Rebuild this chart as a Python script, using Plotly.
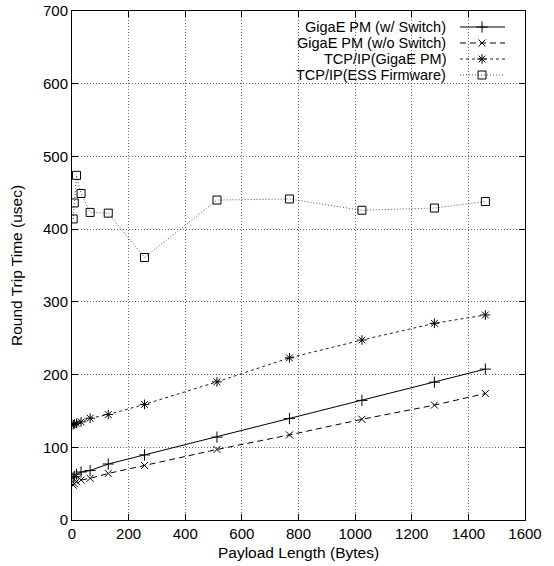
import plotly.graph_objects as go

# ---- data ----
payload = [4, 8, 16, 32, 64, 128, 256, 512, 768, 1024, 1280, 1460]
pm_switch = [58, 60, 63, 66, 68, 77, 89.5, 114, 139.5, 164.5, 189.5, 207.5]
pm_noswitch = [48, 50, 52.7, 55, 57.3, 64, 75, 97, 117, 138.5, 158, 174]
tcp_pm = [131, 132, 133, 135, 140, 145, 159, 190, 223, 247.5, 270.5, 282]
tcp_ess = [414, 436, 474, 449, 423, 422, 361, 440, 441.5, 426, 429, 438]

names = ["GigaE PM (w/ Switch)", "GigaE PM (w/o Switch)",
         "TCP/IP(GigaE PM)", "TCP/IP(ESS Firmware)"]
series = [pm_switch, pm_noswitch, tcp_pm, tcp_ess]
symbols = ["cross-thin-open", "x-thin-open", "asterisk-open", "square-open"]
dashes = ["solid", "6px,4px", "3px,3px", "1px,2px"]
line_colors = ["#000000", "#000000", "#222222", "#555555"]
marker_sizes = [8, 7, 8, 8]

x_ticks = list(range(0, 1601, 200))
y_ticks = list(range(0, 701, 100))

FONT = "Liberation Sans, Arial, Helvetica, sans-serif"

fig = go.Figure()
for name, ys, sym, dash, col, ms in zip(names, series, symbols, dashes, line_colors, marker_sizes):
    fig.add_trace(go.Scatter(
        x=payload, y=ys, name=name, mode="lines+markers",
        line=dict(color=col, width=1, dash=dash),
        marker=dict(symbol=sym, size=ms, color="#000000",
                    line=dict(color="#000000", width=1)),
        showlegend=False,
    ))

# ---- custom gnuplot-style legend (text left, sample right) ----
W, H = 453.0, 509.0
text_right = (447 - 72) / W
line_x0 = (460 - 72) / W
line_x1 = (505 - 72) / W
mark_x = (482 - 72) / W
for i, (name, sym, dash, col, ms) in enumerate(zip(names, symbols, dashes, line_colors, marker_sizes)):
    yp = (520 - (27 + 16 * i)) / H
    fig.add_annotation(x=text_right, y=yp, xref="x2", yref="y2", text=name,
                       showarrow=False, xanchor="right", yanchor="middle",
                       borderpad=0,
                       font=dict(family=FONT, size=14.5, color="#000000"))
    fig.add_trace(go.Scatter(
        x=[line_x0, mark_x, line_x1], y=[yp, yp, yp], xaxis="x2", yaxis="y2",
        mode="lines", line=dict(color=col, width=1, dash=dash),
        showlegend=False, hoverinfo="skip"))
    fig.add_trace(go.Scatter(
        x=[mark_x], y=[yp], xaxis="x2", yaxis="y2", mode="markers",
        marker=dict(symbol=sym, size=ms, color="#000000",
                    line=dict(color="#000000", width=1)),
        showlegend=False, hoverinfo="skip"))

axis_common = dict(
    showline=True, linecolor="#000000", linewidth=1, mirror="ticks",
    ticks="inside", ticklen=6, tickcolor="#000000", tickwidth=1,
    showgrid=True, gridcolor="#666666", griddash="1px,2px", gridwidth=1,
    zeroline=False, automargin=False,
    tickfont=dict(family=FONT, size=15, color="#000000"),
)

fig.update_layout(
    width=554, height=566,
    margin=dict(l=72, r=29, t=11, b=46, autoexpand=False),
    plot_bgcolor="#ffffff", paper_bgcolor="#ffffff",
    font=dict(family=FONT, size=15, color="#000000"),
    xaxis=dict(range=[0, 1600], tickvals=x_ticks, ticktext=[str(v) for v in x_ticks],
               title=dict(text="Payload Length (Bytes)", standoff=6,
                          font=dict(family=FONT, size=15.5)),
               **axis_common),
    yaxis=dict(range=[0, 700], tickvals=y_ticks, ticktext=[str(v) for v in y_ticks],
               title=dict(text="Round Trip Time (usec)", standoff=16,
                          font=dict(family=FONT, size=15.5)),
               **axis_common),
    xaxis2=dict(range=[0, 1], overlaying="x", visible=False, fixedrange=True),
    yaxis2=dict(range=[0, 1], overlaying="y", visible=False, fixedrange=True),
    showlegend=False,
)

fig.write_html("out.html")
